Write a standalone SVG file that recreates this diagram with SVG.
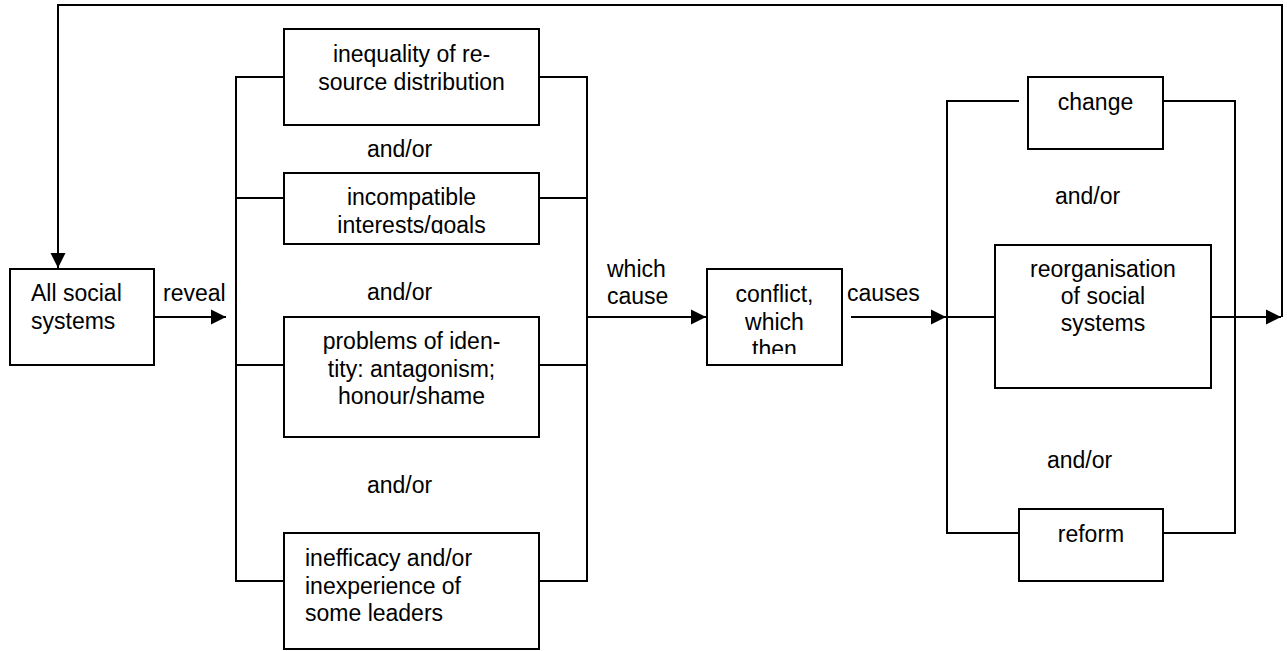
<svg xmlns="http://www.w3.org/2000/svg" width="1287" height="651" viewBox="0 0 1287 651">
<style>
.box{fill:#fff;stroke:#000;stroke-width:2}
.ln{fill:none;stroke:#000;stroke-width:2}
text{font-family:"Liberation Sans",Arial,sans-serif;font-size:23px;fill:#000}
.c{text-anchor:middle}
</style>
<defs>
<marker id="ah" markerUnits="userSpaceOnUse" markerWidth="16" markerHeight="16" viewBox="0 0 16 16" refX="15" refY="8" orient="auto">
<path d="M0,0.5 L15,8 L0,15.5 Z" fill="#000"/>
</marker>
<clipPath id="clipInc"><rect x="284" y="173" width="255" height="61"/></clipPath>
<clipPath id="clipConf"><rect x="707" y="269" width="135" height="85"/></clipPath>
</defs>
<rect width="1287" height="651" fill="#fff"/>
<g id="connectors">
<path class="ln" d="M1282,317 V5 H58 V268" marker-end="url(#ah)"/>
<path class="ln" d="M154,317 H226" marker-end="url(#ah)"/>
<path class="ln" d="M284,77 H236 V581 H284 M236,198 H284 M236,365 H284"/>
<path class="ln" d="M539,77 H587 V581 H539 M587,198 H539 M587,365 H539"/>
<path class="ln" d="M587,317 H706" marker-end="url(#ah)"/>
<path class="ln" d="M851,317 H946" marker-end="url(#ah)"/>
<path class="ln" d="M1019,101 H947 V533 H1019 M947,317 H995"/>
<path class="ln" d="M1163,101 H1235 V533 H1163"/>
<path class="ln" d="M1211,317 H1281" marker-end="url(#ah)"/>
<text x="163" y="301">reveal</text>
<text x="607" y="277">which</text>
<text x="607" y="304">cause</text>
<text x="847" y="301">causes</text>
<text class="c" x="399.5" y="157">and/or</text>
<text class="c" x="399.5" y="300">and/or</text>
<text class="c" x="399.5" y="493">and/or</text>
<text class="c" x="1087.5" y="204">and/or</text>
<text class="c" x="1079.5" y="468">and/or</text>
</g>
<g id="all-social">
<rect class="box" x="10" y="269" width="144" height="96"/>
<text x="31" y="301">All social</text>
<text x="31" y="329">systems</text>
</g>
<g id="inequality">
<rect class="box" x="284" y="29" width="255" height="96"/>
<text class="c" x="411.5" y="62">inequality of re-</text>
<text class="c" x="411.5" y="90">source distribution</text>
</g>
<g id="incompatible">
<rect class="box" x="284" y="173" width="255" height="71"/>
<g clip-path="url(#clipInc)">
<text class="c" x="411.5" y="205">incompatible</text>
<text class="c" x="411.5" y="233">interests/goals</text>
</g>
</g>
<g id="problems">
<rect class="box" x="284" y="317" width="255" height="120"/>
<text class="c" x="411.5" y="349">problems of iden-</text>
<text class="c" x="411.5" y="377">tity: antagonism;</text>
<text class="c" x="411.5" y="404">honour/shame</text>
</g>
<g id="inefficacy">
<rect class="box" x="284" y="533" width="255" height="116"/>
<text x="305" y="566">inefficacy and/or</text>
<text x="305" y="594">inexperience of</text>
<text x="305" y="621">some leaders</text>
</g>
<g id="conflict">
<rect class="box" x="707" y="269" width="135" height="96"/>
<g clip-path="url(#clipConf)">
<text class="c" x="774.5" y="302">conflict,</text>
<text class="c" x="774.5" y="329.5">which</text>
<text class="c" x="774.5" y="357">then</text>
</g>
</g>
<g id="change">
<rect class="box" x="1028" y="77" width="135" height="72"/>
<text class="c" x="1095.5" y="110">change</text>
</g>
<g id="reorganisation">
<rect class="box" x="995" y="245" width="216" height="143"/>
<text class="c" x="1103" y="277">reorganisation</text>
<text class="c" x="1103" y="304">of social</text>
<text class="c" x="1103" y="331">systems</text>
</g>
<g id="reform">
<rect class="box" x="1019" y="509" width="144" height="72"/>
<text class="c" x="1091" y="542">reform</text>
</g>
</svg>
